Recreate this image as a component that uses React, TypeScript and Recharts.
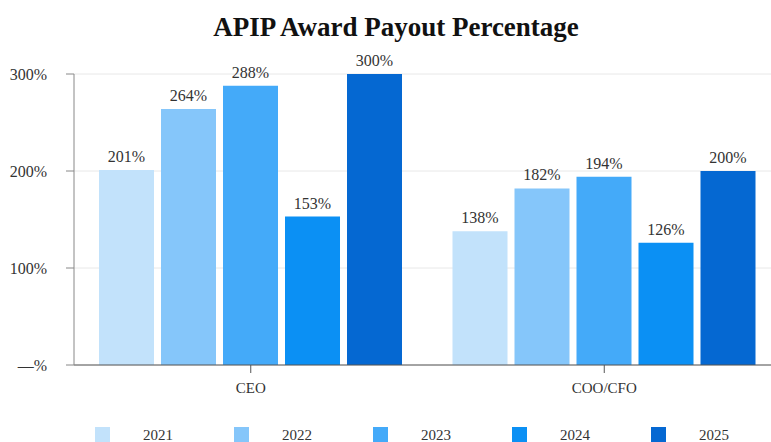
import { BarChart, Bar, XAxis, YAxis, CartesianGrid, LabelList } from "recharts";

const CATEGORIES = ["CEO", "COO/CFO"];
const YEARS = ["2021", "2022", "2023", "2024", "2025"];
const PAYOUT_2021 = [201, 138];
const PAYOUT_2022 = [264, 182];
const PAYOUT_2023 = [288, 194];
const PAYOUT_2024 = [153, 126];
const PAYOUT_2025 = [300, 200];
const Y_TICKS = [0, 100, 200, 300];

const SERIES = [PAYOUT_2021, PAYOUT_2022, PAYOUT_2023, PAYOUT_2024, PAYOUT_2025];
const COLORS = ["#C2E2FB", "#85C6FA", "#44AAF9", "#0B90F4", "#0568D2"];

const FONT = '"Liberation Serif", "Times New Roman", serif';

const chartData = CATEGORIES.map((name, i) => {
  const row: any = { name };
  YEARS.forEach((y, j) => {
    row[y] = SERIES[j][i];
  });
  return row;
});

export default function App() {
  return (
    <div
      style={{
        position: "absolute",
        left: 0,
        top: 0,
        width: 771,
        height: 442,
        overflow: "hidden",
        background: "#fff",
        fontFamily: FONT,
      }}
    >
      <div
        style={{
          position: "absolute",
          left: 0,
          top: 14,
          width: 792,
          textAlign: "center",
          fontSize: 27,
          fontWeight: "bold",
          lineHeight: 1,
          color: "#111",
        }}
      >
        APIP Award Payout Percentage
      </div>

      <BarChart
        width={800}
        height={442}
        data={chartData}
        margin={{ top: 74, right: 19, left: 0, bottom: 47 }}
        barCategoryGap={25}
        barGap={7}
        style={{ fontFamily: FONT }}
      >
        <CartesianGrid vertical={false} stroke="#e8e8e8" />
        <XAxis
          dataKey="name"
          axisLine={{ stroke: "#555" }}
          tickLine={{ stroke: "#555" }}
          tickSize={8}
          height={30}
          tick={{ fill: "#333", fontSize: 15, fontFamily: FONT, dy: 7 }}
        />
        <YAxis
          domain={[0, 300]}
          ticks={Y_TICKS}
          width={74}
          axisLine={{ stroke: "#888" }}
          tickLine={{ stroke: "#888" }}
          tickSize={8}
          tick={{ fill: "#333", fontSize: 16, fontFamily: FONT, dx: -17 }}
          tickFormatter={(v: number) => (v === 0 ? "—%" : `${v}%`)}
        />
        {YEARS.map((y, j) => (
          <Bar key={y} dataKey={y} fill={COLORS[j]} isAnimationActive={false}>
            <LabelList
              dataKey={y}
              position="top"
              offset={8}
              formatter={(v: any) => `${v}%`}
              style={{ fill: "#333", fontSize: 16, fontFamily: FONT }}
            />
          </Bar>
        ))}
      </BarChart>

      <div
        style={{
          position: "absolute",
          left: 95,
          top: 427,
          display: "flex",
          fontSize: 15,
          color: "#333",
          lineHeight: "16px",
        }}
      >
        {YEARS.map((y, j) => (
          <div key={y} style={{ width: 139, display: "flex", alignItems: "center" }}>
            <span
              style={{
                display: "inline-block",
                width: 15,
                height: 16,
                background: COLORS[j],
                marginRight: 33,
              }}
            />
            <span>{y}</span>
          </div>
        ))}
      </div>
    </div>
  );
}
